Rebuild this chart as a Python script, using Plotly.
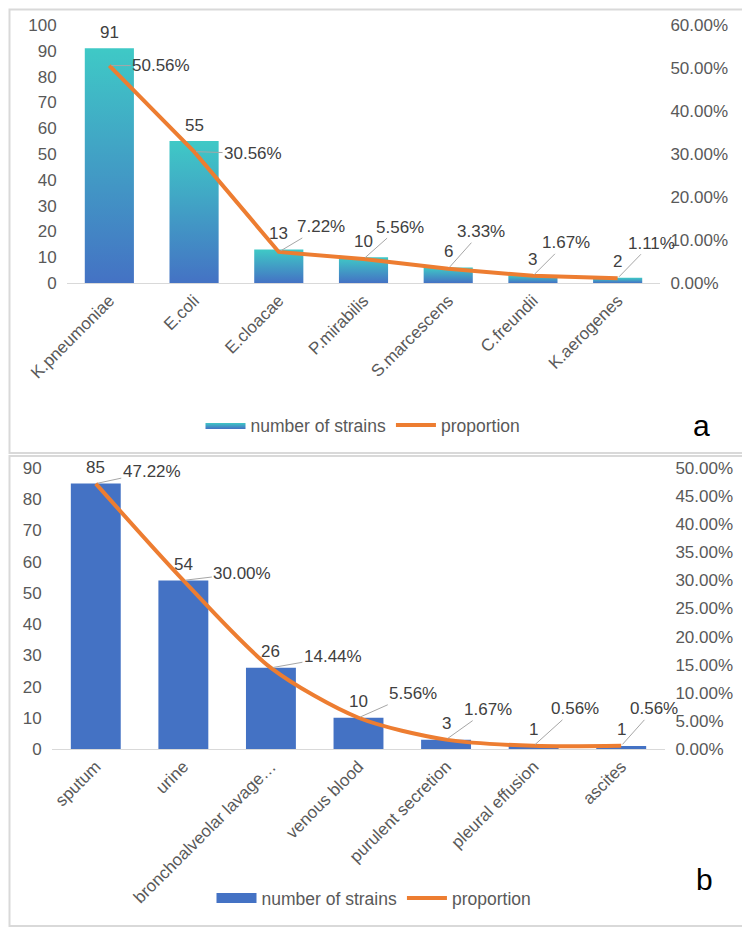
import plotly.graph_objects as go

# panel a: species
species = ["K.pneumoniae", "E.coli", "E.cloacae", "P.mirabilis",
           "S.marcescens", "C.freundii", "K.aerogenes"]
species_counts = [91, 55, 13, 10, 6, 3, 2]
species_prop = [0.5056, 0.3056, 0.0722, 0.0556, 0.0333, 0.0167, 0.0111]

# panel b: specimen source
specimens = ["sputum", "urine", "bronchoalveolar lavage…", "venous blood",
             "purulent secretion", "pleural effusion", "ascites"]
specimen_counts = [85, 54, 26, 10, 3, 1, 1]
specimen_prop = [0.4722, 0.3000, 0.1444, 0.0556, 0.0167, 0.0056, 0.0056]

# label offsets (pixels) for the percentage callouts
a_offsets = [(52, 0), (59, 2), (42, -25), (36, -32), (33, -37), (33, -33), (34, -35)]
b_offsets = [(56, -12), (59, -7), (62, -11), (54, -24), (42, -30), (41, -37), (33, -37)]

FONT = "Liberation Sans, Arial, sans-serif"
GREY = "#595959"
LABEL = "#404040"
ORANGE = "#ED7D31"
BLUE = "#4472C4"
TEAL = "#3FC9C6"
FRAME = "#D9D9D9"
BAR_W = 0.58
PAGE_OFFSET = 8  # the page body margin pushes the figure down/right


def px_x(p):
    return (p - PAGE_OFFSET) / 750


def px_y(p):
    return 1 - (p - PAGE_OFFSET) / 930


fig = go.Figure()

# gradient bars for panel a, one polygon per bar so each gets its own gradient
for i, v in enumerate(species_counts):
    fig.add_trace(go.Scatter(
        x=[i - BAR_W / 2, i + BAR_W / 2, i + BAR_W / 2, i - BAR_W / 2, i - BAR_W / 2],
        y=[0, 0, v, v, 0],
        mode="lines", fill="toself", line=dict(width=0),
        fillgradient=dict(type="vertical", colorscale=[[0, BLUE], [1, TEAL]]),
        name="number of strains", legendgroup="a_bars", showlegend=(i == 0),
        legend="legend", xaxis="x", yaxis="y", hoverinfo="skip",
    ))

fig.add_trace(go.Scatter(
    x=list(range(len(species))), y=species_prop, mode="lines",
    line=dict(color=ORANGE, width=4), name="proportion",
    legend="legend", xaxis="x", yaxis="y2", hoverinfo="skip",
))

# panel b
fig.add_trace(go.Bar(
    x=list(range(len(specimens))), y=specimen_counts, width=0.57,
    marker=dict(color=BLUE, line=dict(width=0)), name="number of strains",
    showlegend=False, xaxis="x2", yaxis="y3", hoverinfo="skip",
))
# legend key for the bars: a wide flat swatch like the original
fig.add_trace(go.Scatter(
    x=[None], y=[None], mode="lines", line=dict(color=BLUE, width=12),
    name="number of strains", legend="legend2", xaxis="x2", yaxis="y3",
))
fig.add_trace(go.Scatter(
    x=list(range(len(specimens))), y=specimen_prop, mode="lines",
    line=dict(color=ORANGE, width=4, shape="spline", smoothing=0.8), name="proportion",
    legend="legend2", xaxis="x2", yaxis="y4", hoverinfo="skip",
))

annotations = []
label_font = dict(family=FONT, size=17, color=LABEL)


def add_labels(counts, props, offsets, xref, yref_count, yref_prop):
    for i, (c, p) in enumerate(zip(counts, props)):
        annotations.append(dict(
            x=i, y=c, xref=xref, yref=yref_count, text=str(c), showarrow=False,
            yanchor="middle", yshift=16, font=label_font,
        ))
        ax, ay = offsets[i]
        annotations.append(dict(
            x=i, y=p, xref=xref, yref=yref_prop, text=f"{p:.2%}",
            showarrow=True, arrowhead=0, arrowwidth=1, arrowcolor="#A6A6A6",
            ax=ax, ay=ay, font=label_font, standoff=2,
        ))


add_labels(species_counts, species_prop, a_offsets, "x", "y", "y2")
add_labels(specimen_counts, specimen_prop, b_offsets, "x2", "y3", "y4")

annotations.append(dict(x=px_x(712), y=px_y(425), xref="paper", yref="paper",
                        text="a", showarrow=False, font=dict(family=FONT, size=30, color="black")))
annotations.append(dict(x=px_x(715), y=px_y(898), xref="paper", yref="paper",
                        text="b", showarrow=False, font=dict(family=FONT, size=30, color="black")))

tick_font = dict(family=FONT, size=17, color=GREY)
legend_font = dict(family=FONT, size=17.5, color=GREY)

x_common = dict(showgrid=False, zeroline=False, showline=True, linecolor=FRAME,
                linewidth=1, ticks="", tickangle=-45, tickfont=tick_font,
                range=[-0.5, 6.5], automargin=False)
y_common = dict(showgrid=False, zeroline=False, showline=False, tickfont=tick_font,
                ticks="outside", ticklen=6, tickcolor="rgba(0,0,0,0)", automargin=False)

# panel frames; the left/top edges can't go past the figure's own edge
left_edge = px_x(PAGE_OFFSET + 1.5)
top_edge = px_y(PAGE_OFFSET + 1.5)

fig.update_layout(
    width=750, height=930,
    margin=dict(l=0, r=0, t=0, b=0, pad=0, autoexpand=False),
    paper_bgcolor="white", plot_bgcolor="white",
    font=dict(family=FONT, color=GREY),
    xaxis=dict(x_common, domain=[px_x(67), px_x(660)], anchor="y",
               tickvals=list(range(len(species))), ticktext=species),
    yaxis=dict(y_common, domain=[px_y(283), px_y(25)], anchor="x",
               range=[0, 100], dtick=10),
    yaxis2=dict(y_common, overlaying="y", side="right", anchor="x",
                range=[0, 0.6], dtick=0.1, tickformat=".2%"),
    xaxis2=dict(x_common, domain=[px_x(52), px_x(665)], anchor="y3",
                tickvals=list(range(len(specimens))), ticktext=specimens),
    yaxis3=dict(y_common, domain=[px_y(749), px_y(468)], anchor="x2",
                range=[0, 90], dtick=10),
    yaxis4=dict(y_common, overlaying="y3", side="right", anchor="x2",
                range=[0, 0.5], dtick=0.05, tickformat=".2%"),
    legend=dict(orientation="h", x=px_x(363), y=px_y(425), xanchor="center",
                yanchor="middle", font=legend_font, itemwidth=40,
                bgcolor="rgba(0,0,0,0)"),
    legend2=dict(orientation="h", x=px_x(374), y=px_y(898), xanchor="center",
                 yanchor="middle", font=legend_font, itemwidth=40,
                 bgcolor="rgba(0,0,0,0)"),
    annotations=annotations,
    shapes=[
        dict(type="rect", xref="paper", yref="paper", x0=left_edge, x1=px_x(746),
             y0=px_y(453), y1=top_edge, line=dict(color=FRAME, width=2)),
        dict(type="rect", xref="paper", yref="paper", x0=left_edge, x1=px_x(746),
             y0=px_y(926), y1=px_y(456), line=dict(color=FRAME, width=2)),
    ],
    showlegend=True,
)

fig.write_html("out.html")
